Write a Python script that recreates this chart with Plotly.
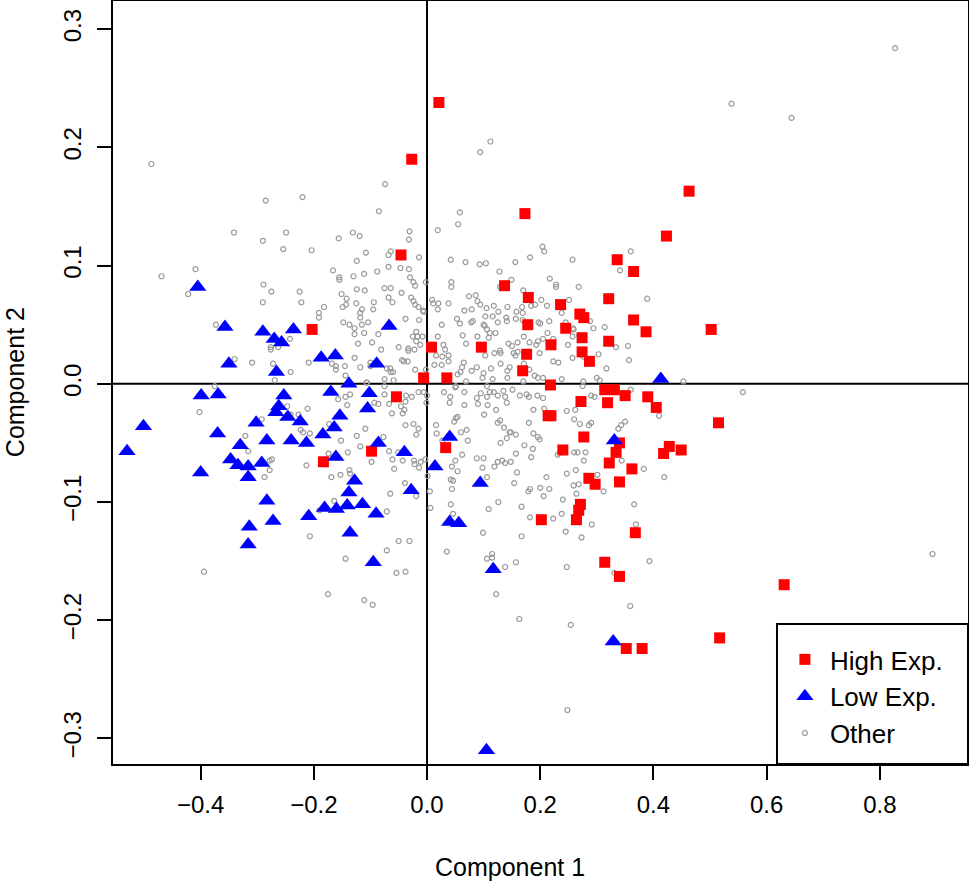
import plotly.graph_objects as go

# ---- data (Component 1, Component 2) ----
high_x = [0.021, -0.027, 0.463, 0.502, 0.515, 0.449, 0.631, 0.517, 0.340, 0.352, 0.380, -0.203,
          0.173, 0.423, -0.046, 0.336, 0.365, 0.137, 0.179, 0.236, 0.321, 0.270, 0.277, 0.178,
          0.245, 0.365, 0.387, 0.274, 0.321, 0.008, 0.096, 0.219, 0.274, 0.176, 0.287, 0.169,
          -0.006, 0.035, 0.218, -0.054, 0.272, 0.314, 0.331, 0.350, 0.319, 0.390, 0.405, 0.214,
          0.219, 0.277, 0.240, 0.033, 0.340, 0.334, 0.322, 0.428, 0.418, 0.362, 0.340, 0.286,
          0.297, 0.271, 0.268, 0.264, 0.202, 0.368, 0.314, -0.183, -0.098]
high_y = [0.238, 0.190, 0.163, 0.046, -0.033, -0.056, -0.170, -0.215, -0.163, -0.224, -0.224, 0.046,
          0.144, 0.125, 0.109, 0.105, 0.095, 0.083, 0.073, 0.067, 0.072, 0.059, 0.056, 0.050,
          0.047, 0.054, 0.044, 0.039, 0.036, 0.031, 0.031, 0.033, 0.027, 0.025, 0.019, 0.011,
          0.005, 0.005, -0.001, -0.011, -0.015, -0.005, -0.005, -0.010, -0.016, -0.011, -0.020, -0.027,
          -0.027, -0.045, -0.056, -0.054, -0.050, -0.058, -0.067, -0.053, -0.059, -0.072, -0.083, -0.080,
          -0.085, -0.102, -0.107, -0.115, -0.115, -0.126, -0.151, -0.066, -0.057]

low_x = [-0.405, -0.357, -0.290, -0.270, -0.257, -0.236, -0.350, -0.266, -0.187, -0.162, -0.089, -0.138,
         -0.067, 0.413, 0.040, 0.014, 0.094, 0.331, -0.040, -0.028, 0.040, 0.056, 0.117, 0.329,
         0.105, -0.399, -0.369, -0.501, -0.530, -0.370, -0.400, -0.253, -0.262, -0.267, -0.246, -0.224,
         -0.302, -0.330, -0.347, -0.334, -0.316, -0.316, -0.292, -0.283, -0.240, -0.213, -0.170, -0.154,
         -0.164, -0.184, -0.161, -0.102, -0.105, -0.086, -0.128, -0.138, -0.141, -0.114, -0.160, -0.181,
         -0.090, -0.283, -0.272, -0.314, -0.316, -0.209, -0.136, -0.095]
low_y = [0.082, 0.048, 0.044, 0.038, 0.035, 0.046, 0.017, 0.010, 0.022, 0.024, 0.017, 0.000,
         0.049, 0.004, -0.045, -0.070, -0.084, -0.048, -0.058, -0.090, -0.117, -0.118, -0.157, -0.218,
         -0.310, -0.010, -0.009, -0.036, -0.057, -0.042, -0.075, -0.010, -0.019, -0.024, -0.028, -0.032,
         -0.033, -0.052, -0.064, -0.069, -0.070, -0.079, -0.067, -0.048, -0.048, -0.050, -0.007, -0.027,
         -0.037, -0.043, -0.062, -0.008, -0.021, -0.050, -0.082, -0.092, -0.103, -0.102, -0.106, -0.105,
         -0.110, -0.099, -0.116, -0.121, -0.136, -0.112, -0.126, -0.151]

other_x = [
    0.112, 0.094, -0.074, -0.487, 0.827, 0.538, 0.644, 0.453, 0.558, 0.893,
    -0.394, -0.175, -0.111, -0.096, -0.054, -0.038, 0.331, 0.122, 0.359, 0.163, 0.254, 0.248,
    -0.285, -0.220, -0.085, -0.341, -0.290, -0.249, -0.254, -0.204, -0.156, -0.131, -0.119, -0.108,
    -0.124, -0.409, -0.469, -0.422, -0.166, -0.155, -0.155, -0.130, -0.111, -0.088, -0.289, -0.275,
    -0.225, -0.290, -0.222, -0.151, -0.142, -0.124, -0.110, -0.149, -0.143, -0.125, -0.115, -0.118,
    -0.118, -0.094, -0.095, -0.182, -0.191, -0.191, -0.373, -0.148, -0.137, -0.128, -0.128, -0.115,
    -0.104, -0.111, -0.086, -0.097, -0.122, -0.242, -0.276, -0.276, -0.263, -0.340, -0.309, -0.272,
    -0.241, -0.209, -0.168, -0.161, -0.161, -0.145, -0.144, -0.128, -0.118, -0.100, -0.100, -0.269,
    -0.107, -0.081,
    0.058, 0.055, 0.019, -0.031, -0.032, -0.068, -0.064, -0.014, 0.204, 0.207, 0.182, 0.257,
    0.360, 0.341, 0.042, 0.068, 0.093, 0.104, 0.156, 0.128, -0.068, -0.047, -0.032, -0.030,
    -0.024, -0.021, -0.075, -0.064, -0.002, 0.043, 0.043, 0.149, 0.228, 0.228, 0.217, 0.268,
    0.170, 0.129, 0.389, -0.068, -0.061, -0.045, -0.028, -0.024, -0.021, -0.015, -0.007, -0.006,
    0.009, 0.011, 0.020, 0.019, 0.038, 0.074, 0.086, 0.089, 0.094, 0.066, 0.079, 0.105,
    0.118, 0.126, 0.142, 0.158, 0.168, 0.169, 0.184, 0.191, 0.202, 0.212, 0.251, 0.238,
    -0.038, -0.014, 0.053, 0.058, 0.078, 0.081, 0.103, 0.100, 0.116, 0.125, 0.140, 0.141,
    0.157, 0.169, 0.197, 0.200, 0.216, 0.245, 0.258, 0.288, 0.314, 0.026, -0.019, -0.025,
    -0.017, -0.008, -0.019, -0.012, 0.019, 0.063, 0.069, 0.102, 0.106, 0.111, 0.121, 0.109,
    0.089, 0.144, 0.150, 0.160, 0.171, 0.181, 0.193, 0.196, 0.205, 0.213, 0.223, 0.249,
    0.257, 0.259, 0.269, 0.294, 0.334, 0.355, 0.357, -0.050, -0.033, -0.033, -0.022, 0.029,
    0.032, 0.038, 0.027, 0.016, 0.013, 0.026, 0.038, -0.044, -0.041, -0.034, -0.021, -0.071,
    -0.065, -0.060, -0.064, -0.075, -0.059, -0.002, 0.103, 0.119, 0.129, 0.130, 0.153, 0.160,
    0.156, 0.171, 0.181, 0.199, 0.223, 0.232, 0.065, 0.062, 0.059, 0.054, 0.079, 0.100,
    0.098, 0.088, 0.113, 0.130, 0.146, 0.142, 0.190, 0.196, 0.205, 0.257, 0.276, 0.303,
    0.317, 0.300, 0.305, 0.276, 0.238, 0.069, 0.116, 0.142, 0.170,
    -0.075, -0.075, -0.015, -0.006, 0.000, -0.037, -0.027, -0.038, -0.067, -0.046, -0.040, -0.043,
    -0.062, -0.001, 0.030, 0.041, 0.040, 0.050, 0.066, 0.066, 0.088, 0.090, 0.095, 0.106,
    0.107, 0.111, 0.118, 0.125, 0.135, 0.138, 0.141, 0.122, 0.101, 0.151, 0.164, 0.176,
    0.180, 0.195, 0.205, 0.188, 0.207, 0.106, 0.051, 0.247, 0.262, 0.260, 0.270, 0.290,
    0.286, 0.275, 0.296, 0.290, 0.360, 0.410, 0.343, 0.350, 0.338, 0.180, 0.188, 0.196,
    0.199, 0.125, 0.129, 0.136, 0.146, 0.148, 0.141, 0.130, 0.157, 0.172, 0.187, 0.184,
    0.157, 0.048, 0.051, 0.054, 0.060, 0.070, 0.072, 0.016, 0.017, 0.027, -0.038, -0.024,
    -0.015, -0.019, -0.077, -0.067, -0.051, -0.061, -0.043, -0.058, -0.023, -0.022, -0.014, -0.011,
    -0.003, 0.050, 0.044, 0.054, 0.042, 0.046, 0.044, 0.062, 0.088, 0.100, 0.098, 0.106,
    0.119, 0.125, 0.133, 0.138, 0.148, 0.159, 0.154, 0.211, 0.216, 0.206, 0.200, 0.182,
    0.179, 0.247, 0.263, 0.259, 0.268, 0.264, 0.240, 0.260, 0.266, 0.280, 0.277, 0.231,
    0.301, 0.312, 0.344, 0.383, 0.419, 0.366, 0.005, 0.006, 0.001, -0.039, -0.019, -0.065,
    -0.071, 0.042, 0.046, 0.109, 0.126, 0.167, 0.182, 0.223, 0.238, 0.291, 0.369, 0.245,
    0.273, 0.099, 0.167, -0.050, -0.031, -0.071, 0.035, 0.106, 0.115, 0.115, 0.138, 0.157,
    0.247, 0.393,
    -0.375, -0.402, -0.292, -0.321, -0.316, -0.247, -0.241, -0.227, -0.211, -0.223, -0.219, -0.207,
    -0.278, -0.274, -0.278, -0.287, -0.213, -0.157, -0.144, -0.136, -0.141, -0.106, -0.093, -0.086,
    -0.173, -0.152, -0.124, -0.109, -0.118, -0.140, -0.174, -0.098, -0.169, -0.153, -0.137, -0.136,
    -0.164, -0.190, -0.207, -0.144,
]
other_y = [
    0.205, 0.196, 0.169, 0.186, 0.284, 0.237, 0.225, 0.002, -0.007, -0.144,
    -0.159, -0.178, -0.183, -0.187, -0.160, -0.159, -0.160, -0.178, -0.188, -0.199, -0.204, -0.276,
    0.155, 0.158, 0.146, 0.128, 0.121, 0.128, 0.114, 0.113, 0.123, 0.128, 0.125, 0.111,
    0.104, 0.097, 0.091, 0.076, 0.096, 0.090, 0.088, 0.091, 0.093, 0.095, 0.084, 0.078,
    0.078, 0.069, 0.069, 0.076, 0.072, 0.080, 0.079, 0.065, 0.067, 0.068, 0.063, 0.060,
    0.056, 0.069, 0.063, 0.065, 0.060, 0.056, 0.050, 0.052, 0.050, 0.047, 0.042, 0.050,
    0.052, 0.043, 0.042, 0.035, 0.034, 0.038, 0.031, 0.029, 0.031, 0.021, 0.018, 0.017,
    0.010, 0.018, 0.017, 0.015, 0.012, 0.015, 0.007, 0.022, 0.014, 0.018, 0.015, 0.003,
    0.001, 0.029,
    0.145, 0.135, 0.130, 0.129, 0.122, 0.109, 0.112, 0.107, 0.116, 0.112, 0.107, 0.105,
    0.112, 0.096, 0.105, 0.103, 0.101, 0.102, 0.103, 0.095, 0.099, 0.098, 0.097, 0.090,
    0.086, 0.083, 0.081, 0.081, 0.086, 0.086, 0.082, 0.088, 0.084, 0.082, 0.089, 0.082,
    0.079, 0.082, 0.072, 0.073, 0.069, 0.077, 0.073, 0.070, 0.067, 0.065, 0.062, 0.061,
    0.071, 0.068, 0.068, 0.063, 0.068, 0.074, 0.075, 0.070, 0.067, 0.062, 0.063, 0.064,
    0.066, 0.061, 0.065, 0.061, 0.065, 0.060, 0.066, 0.067, 0.071, 0.066, 0.071, 0.060,
    0.055, 0.054, 0.055, 0.051, 0.052, 0.053, 0.057, 0.050, 0.057, 0.052, 0.056, 0.053,
    0.055, 0.054, 0.052, 0.051, 0.053, 0.052, 0.047, 0.053, 0.048, 0.050, 0.044, 0.040,
    0.040, 0.040, 0.036, 0.033, 0.040, 0.041, 0.034, 0.049, 0.046, 0.043, 0.043, 0.039,
    0.040, 0.034, 0.032, 0.035, 0.040, 0.035, 0.033, 0.036, 0.038, 0.043, 0.038, 0.033,
    0.040, 0.046, 0.041, 0.047, 0.031, 0.032, 0.020, 0.031, 0.030, 0.028, 0.029, 0.033,
    0.029, 0.024, 0.023, 0.024, 0.016, 0.016, 0.019, 0.020, 0.019, 0.019, 0.012, 0.013,
    0.013, 0.010, 0.010, 0.004, 0.003, 0.012, 0.024, 0.026, 0.028, 0.026, 0.026, 0.027,
    0.024, 0.017, 0.012, 0.026, 0.019, 0.018, 0.018, 0.014, 0.010, 0.008, 0.011, 0.009,
    0.005, 0.014, 0.013, 0.017, 0.014, 0.011, 0.007, 0.005, 0.005, 0.022, 0.023, 0.025,
    0.013, 0.005, 0.003, 0.002, 0.004, 0.002, 0.004, 0.005, 0.002,
    -0.002, -0.009, -0.007, -0.007, -0.010, -0.010, -0.011, -0.015, -0.017, -0.019, -0.022, -0.025,
    -0.025, -0.016, -0.007, -0.011, -0.016, -0.003, -0.007, -0.018, -0.012, -0.017, -0.008, -0.011,
    -0.018, -0.007, -0.007, -0.010, -0.006, -0.011, -0.016, -0.022, -0.026, -0.005, -0.010, -0.009,
    -0.011, -0.010, -0.012, -0.022, -0.021, -0.002, -0.002, -0.023, -0.022, -0.030, -0.034, -0.033,
    -0.035, -0.002, -0.011, -0.010, -0.005, -0.027, -0.035, -0.032, -0.038, -0.033, -0.042, -0.045,
    -0.047, -0.033, -0.031, -0.037, -0.041, -0.041, -0.046, -0.050, -0.043, -0.052, -0.055, -0.062,
    -0.059, -0.032, -0.029, -0.028, -0.041, -0.039, -0.048, -0.035, -0.042, -0.048, -0.035, -0.034,
    -0.038, -0.043, -0.045, -0.057, -0.058, -0.064, -0.065, -0.072, -0.065, -0.068, -0.071, -0.066,
    -0.064, -0.065, -0.070, -0.074, -0.081, -0.082, -0.089, -0.060, -0.063, -0.063, -0.071, -0.079,
    -0.070, -0.066, -0.065, -0.067, -0.066, -0.075, -0.084, -0.079, -0.089, -0.095, -0.088, -0.089,
    -0.091, -0.076, -0.073, -0.086, -0.085, -0.093, -0.098, -0.058, -0.058, -0.058, -0.065, -0.060,
    -0.077, -0.091, -0.065, -0.072, -0.079, -0.102, -0.091, -0.105, -0.078, -0.084, -0.095, -0.093,
    -0.108, -0.102, -0.110, -0.106, -0.100, -0.104, -0.113, -0.114, -0.110, -0.119, -0.119, -0.125,
    -0.130, -0.126, -0.129, -0.133, -0.133, -0.141, -0.142, -0.148, -0.144, -0.147, -0.155, -0.151,
    -0.155, -0.150,
    -0.002, -0.024, -0.030, -0.044, -0.057, -0.019, -0.026, -0.026, -0.021, -0.039, -0.041, -0.042,
    -0.065, -0.064, -0.073, -0.079, -0.069, -0.013, -0.011, -0.009, -0.018, 0.001, -0.016, -0.017,
    -0.034, -0.048, -0.044, -0.038, -0.053, -0.058, -0.059, -0.066, -0.079, -0.077, -0.073, -0.076,
    -0.099, -0.107, -0.129, -0.148,
]

x_ticks = [-0.4, -0.2, 0.0, 0.2, 0.4, 0.6, 0.8]
x_tick_labels = ["\u22120.4", "\u22120.2", "0.0", "0.2", "0.4", "0.6", "0.8"]
y_ticks = [-0.3, -0.2, -0.1, 0.0, 0.1, 0.2, 0.3]
y_tick_labels = ["\u22120.3", "\u22120.2", "\u22120.1", "0.0", "0.1", "0.2", "0.3"]

FONT = "Liberation Sans, Arial, sans-serif"

fig = go.Figure()
fig.add_trace(go.Scatter(
    x=other_x, y=other_y, mode="markers", name="Other",
    marker=dict(symbol="circle-open", size=5, color="#9a9a9a", line=dict(width=1.2, color="#9a9a9a")),
))
fig.add_trace(go.Scatter(
    x=high_x, y=high_y, mode="markers", name="High Exp.",
    marker=dict(symbol="square", size=11, color="#ff0000", line=dict(width=0)),
))
fig.add_trace(go.Scatter(
    x=low_x, y=low_y, mode="markers", name="Low Exp.",
    marker=dict(symbol="triangle-up", size=15, color="#0000ff", line=dict(width=0)),
))

fig.add_hline(y=0, line=dict(color="black", width=2), layer="below")
fig.add_vline(x=0, line=dict(color="black", width=2), layer="below")

# legend frame (R-style box in bottom-right corner of plot region)
fig.add_shape(type="rect", xref="paper", yref="paper", x0=0.7766, x1=1.0, y0=0.0, y1=0.1835,
              line=dict(color="black", width=2), fillcolor="white", layer="above")

axis_common = dict(
    showgrid=False, zeroline=False, showline=True, mirror=True, automargin=False,
    linecolor="black", linewidth=2, ticks="outside", ticklen=14, tickwidth=2,
    tickcolor="black", tickfont=dict(family=FONT, size=24, color="black"),
)

fig.update_layout(
    width=969, height=885,
    margin=dict(l=113, r=1, t=1, b=121, autoexpand=False),
    paper_bgcolor="white", plot_bgcolor="white",
    font=dict(family=FONT, color="black"),
    xaxis=dict(range=[-0.5548, 0.9558], tickvals=x_ticks, ticktext=x_tick_labels,
               ticklabelstandoff=4, **axis_common),
    yaxis=dict(range=[-0.3217, 0.3239], tickvals=y_ticks, ticktext=y_tick_labels, tickangle=-90,
               ticklabelstandoff=6, **axis_common),
    legend=dict(
        x=0.780, y=0.1678, xanchor="left", yanchor="top",
        borderwidth=0, bgcolor="rgba(0,0,0,0)",
        font=dict(family=FONT, size=26, color="black"),
        traceorder="normal", itemsizing="trace", itemwidth=40,
        tracegroupgap=0,
    ),
    annotations=[
        dict(text="Component 1", xref="paper", yref="paper", x=0.464, y=-0.135,
             xanchor="center", yanchor="middle", showarrow=False,
             font=dict(family=FONT, size=25, color="black")),
        dict(text="Component 2", xref="paper", yref="paper", x=-0.115, y=0.5,
             xanchor="center", yanchor="middle", showarrow=False, textangle=-90,
             font=dict(family=FONT, size=25, color="black")),
    ],
)
fig.data[1].legendrank = 1
fig.data[2].legendrank = 2
fig.data[0].legendrank = 3

fig.write_html("out.html", config={"displayModeBar": False},
               post_script="document.body.style.margin='0px';document.body.style.overflow='hidden';")
